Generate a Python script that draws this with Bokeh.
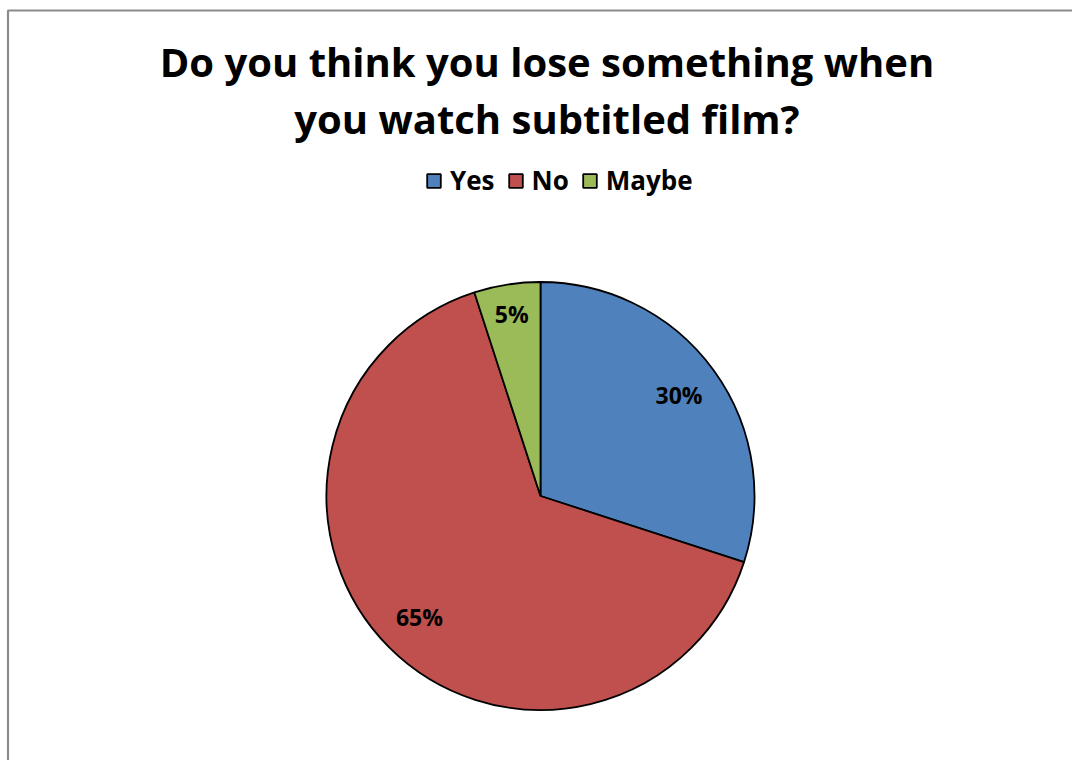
import math
from bokeh.plotting import figure
from bokeh.models import ColumnDataSource, Label, BoxAnnotation, Legend, LegendItem
from bokeh.core.properties import value
from bokeh.embed import file_html
from bokeh.resources import INLINE

# ---- data ----
categories = ["Yes", "No", "Maybe"]
shares = [30, 65, 5]
colors = ["#4F81BD", "#C0504D", "#9BBB59"]
title_lines = ["Do you think you lose something when", "you watch subtitled film?"]

W, H = 1072, 760
FONT = "Open Sans"

total = float(sum(shares))
starts, ends, lx, ly, labels = [], [], [], [], []
cx, cy, R = 540, 264.5, 214
cum = 0.0
for s in shares:
    a0 = math.pi / 2 - 2 * math.pi * cum / total
    cum += s
    a1 = math.pi / 2 - 2 * math.pi * cum / total
    starts.append(a0)
    ends.append(a1)
    mid = (a0 + a1) / 2
    frac = 0.86 if s / total < 0.1 else 0.8
    lx.append(cx + frac * R * math.cos(mid))
    ly.append(cy + frac * R * math.sin(mid))
    labels.append(f"{s}%")

src = ColumnDataSource(dict(cat=categories, start=starts, end=ends, color=colors,
                            lx=lx, ly=ly, label=labels))

p = figure(width=W, height=H, x_range=(0, W), y_range=(0, H),
           output_backend="svg", toolbar_location=None, min_border=0,
           outline_line_color=None, background_fill_color="white")
p.xaxis.visible = False
p.yaxis.visible = False
p.grid.visible = False

# chart-area border (only top and left edges fall inside the view)
p.add_layout(BoxAnnotation(left=7.5, right=W + 50, top=750, bottom=-50,
                           fill_alpha=0, line_color="#8c8c8c", line_alpha=1.0,
                           line_width=2.2))

wr = p.wedge(x=cx, y=cy, radius=R, start_angle="start", end_angle="end",
             direction="clock", fill_color="color", line_color="black",
             line_width=1.8, source=src)

p.text(x="lx", y="ly", text="label", source=src, text_align="center",
       text_baseline="middle", text_font=value(FONT), text_font_style="bold",
       text_font_size="23px", text_color="black")

# title
for i, t in enumerate(title_lines):
    p.add_layout(Label(x=546.5, y=699 - i * 57, text=t, text_align="center",
                       text_baseline="middle", text_font=FONT,
                       text_font_style="bold", text_font_size="40px",
                       text_color="black"))

items = [LegendItem(label=c, renderers=[wr], index=i) for i, c in enumerate(categories)]
leg = Legend(items=items, orientation="horizontal", location=(425, 562),
             padding=0, margin=0, spacing=12, glyph_width=17, glyph_height=17,
             label_standoff=8, label_height=17, label_text_font=FONT,
             label_text_font_style="bold", label_text_font_size="26px",
             label_text_color="black", background_fill_alpha=0,
             border_line_color=None)
p.add_layout(leg)

open("out.html", "w").write(file_html(p, INLINE))
